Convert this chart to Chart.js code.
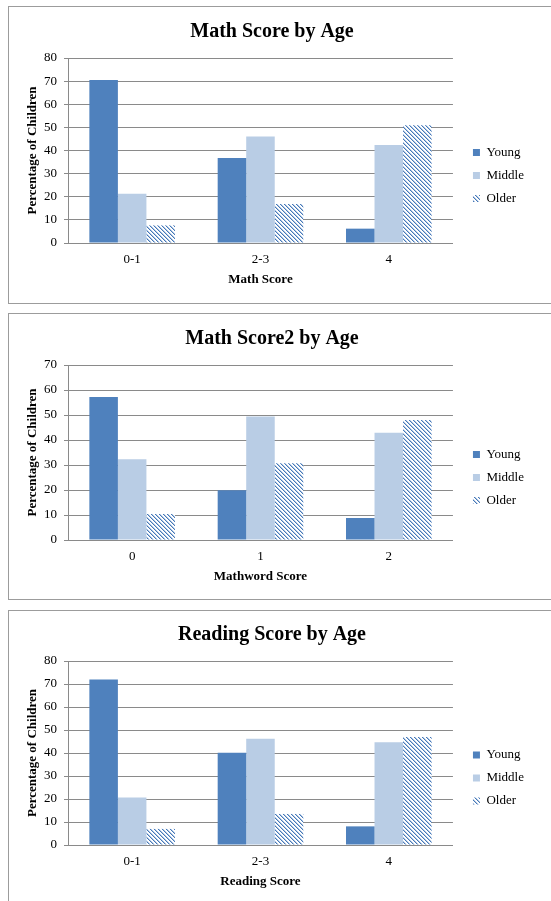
<!DOCTYPE html>
<html>
<head>
<meta charset="utf-8">
<script src="https://cdn.jsdelivr.net/npm/chart.js@4/dist/chart.umd.min.js"></script>
<style>
  html, body { margin: 0; padding: 0; background: #fff; }
  body { position: relative; width: 551px; height: 901px; overflow: hidden; }
  .panel { position: absolute; left: 8px; width: 620px; border: 1px solid #9c9c9c; box-sizing: border-box; }
  canvas { position: absolute; left: 0; }
</style>
</head>
<body>
<div class="panel" style="top:6px;height:298px"></div>
<div class="panel" style="top:313px;height:287px"></div>
<div class="panel" style="top:610px;height:400px"></div>
<canvas id="chart1" width="551" height="303" style="top:0px"></canvas>
<canvas id="chart2" width="551" height="293" style="top:307px"></canvas>
<canvas id="chart3" width="551" height="302" style="top:603px"></canvas>
<script>
// data
const seriesNames = ['Young', 'Middle', 'Older'];

const mathCats = ['0-1', '2-3', '4'];
const mathYoung = [70.5, 36.8, 6.2];
const mathMiddle = [21.3, 46.1, 42.4];
const mathOlder = [7.6, 16.9, 50.9];
const mathMax = 80;

const math2Cats = ['0', '1', '2'];
const math2Young = [57.2, 19.9, 8.8];
const math2Middle = [32.3, 49.4, 42.9];
const math2Older = [10.4, 30.7, 48.0];
const math2Max = 70;

const readCats = ['0-1', '2-3', '4'];
const readYoung = [72.0, 40.1, 8.1];
const readMiddle = [20.6, 46.2, 44.7];
const readOlder = [7.0, 13.5, 47.0];
const readMax = 80;

const BLUE = '#4f81bd';
const LIGHT = '#b9cde5';
const GRID = '#8a8a8a';
const SERIF = '"Liberation Serif", "DejaVu Serif", serif';

// hatched fill for the "Older" series, one per canvas
const makeHatch = (ctx) => {
    const c = document.createElement('canvas');
    c.width = 4;
    c.height = 4;
    const g = c.getContext('2d');
    g.fillStyle = '#fff';
    g.fillRect(0, 0, 4, 4);
    for (let i = 0; i < 4; i++) {
        g.fillStyle = '#4579b8';
        g.fillRect(i, i, 1, 1);
        g.fillStyle = '#b3c7e3';
        g.fillRect((i + 1) % 4, i, 1, 1);
    }
    return ctx.createPattern(c, 'repeat');
};

// nudge the legend to where the original sits
const legendShift = {
    id: 'legendShift',
    afterLayout(chart) {
        const lg = chart.legend;
        if (!lg) return;
        lg.left += 10;
        lg.right += 10;
        lg.top += 32;
        lg.bottom += 32;
    }
};

const makeChart = (id, title, xTitle, cats, young, middle, older, yMax) => {
    const ctx = document.getElementById(id).getContext('2d');
    return new Chart(ctx, {
        type: 'bar',
        data: {
            labels: cats,
            datasets: [
                { label: seriesNames[0], data: young, backgroundColor: BLUE, borderWidth: 0 },
                { label: seriesNames[1], data: middle, backgroundColor: LIGHT, borderWidth: 0 },
                { label: seriesNames[2], data: older, backgroundColor: makeHatch(ctx), borderWidth: 0 }
            ]
        },
        options: {
            responsive: false,
            animation: false,
            categoryPercentage: 0.667,
            barPercentage: 1.0,
            layout: { padding: { left: 20, right: 27, top: 0, bottom: 16 } },
            plugins: {
                title: {
                    display: true,
                    text: title,
                    color: '#000',
                    font: { family: SERIF, size: 20, weight: 'bold' },
                    padding: { top: 20, bottom: 14 }
                },
                legend: {
                    position: 'right',
                    align: 'center',
                    labels: {
                        boxWidth: 7,
                        boxHeight: 7,
                        padding: 10,
                        color: '#000',
                        font: { family: SERIF, size: 13 }
                    }
                },
                tooltip: { enabled: false }
            },
            scales: {
                x: {
                    grid: { display: false, drawTicks: false },
                    border: { display: true, color: GRID, width: 1 },
                    ticks: { color: '#000', padding: 9, font: { family: SERIF, size: 13 } },
                    title: {
                        display: true,
                        text: xTitle,
                        color: '#000',
                        font: { family: SERIF, size: 13, weight: 'bold' },
                        padding: { top: 0, bottom: 0 }
                    },
                    afterFit(scale) {
                        scale.height = 44;
                    }
                },
                y: {
                    min: 0,
                    max: yMax,
                    ticks: { stepSize: 10, color: '#000', padding: 7, font: { family: SERIF, size: 13 } },
                    grid: { color: GRID, tickLength: 4, lineWidth: 1 },
                    border: { color: GRID, width: 1 },
                    title: {
                        display: true,
                        text: 'Percentage of Children',
                        color: '#000',
                        font: { family: SERIF, size: 13, weight: 'bold' },
                        padding: { top: 5, bottom: 0 }
                    },
                    afterFit(scale) {
                        scale.width = 48;
                    }
                }
            }
        },
        plugins: [legendShift]
    });
};

makeChart('chart1', 'Math Score by Age', 'Math Score', mathCats, mathYoung, mathMiddle, mathOlder, mathMax);
makeChart('chart2', 'Math Score2 by Age', 'Mathword Score', math2Cats, math2Young, math2Middle, math2Older, math2Max);
makeChart('chart3', 'Reading Score by Age', 'Reading Score', readCats, readYoung, readMiddle, readOlder, readMax);
</script>
</body>
</html>
